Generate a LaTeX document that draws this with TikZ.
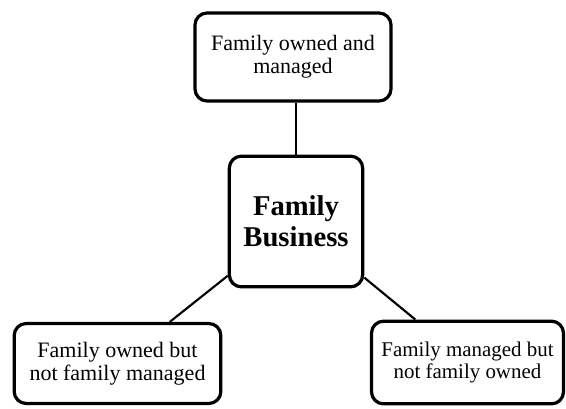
\documentclass[tikz,border=0pt]{standalone}
\usepackage{fontspec}
\setmainfont{Liberation Serif}
\usepackage{tikz}
\usetikzlibrary{positioning}

\tikzset{
    box/.style={draw, line width=2.4pt, rounded corners=9pt, align=center,
        inner sep=0pt, font=\fontsize{16.5}{17.2}\selectfont},
    link/.style={line width=1.6pt}
}

\begin{document}
\begin{tikzpicture}[x=0.75pt, y=-0.75pt]
    \useasboundingbox (0,0) rectangle (566,408);

    % Define nodes
    \node[box, minimum width=147pt, minimum height=66pt] (owned) at (293,57) {Family owned and\\managed};
    \node[box, minimum width=100pt, minimum height=98pt,
          font=\fontsize{21.5}{23}\selectfont\bfseries] (fb) at (296,221.5) {Family\\Business};
    \node[box, minimum width=155pt, minimum height=60pt] (ownedonly) at (117.5,363.5) {Family owned but\\not family managed};
    \node[box, minimum width=144pt, minimum height=62pt,
          font=\fontsize{15.7}{16.6}\selectfont] (managedonly) at (467.5,362.5) {Family managed but\\not family owned};

    % Draw links
    \draw[link] (owned.south -| fb.north) -- (fb.north);
    \draw[link] (fb) -- (ownedonly);
    \draw[link] (fb) -- (managedonly);
\end{tikzpicture}
\end{document}
